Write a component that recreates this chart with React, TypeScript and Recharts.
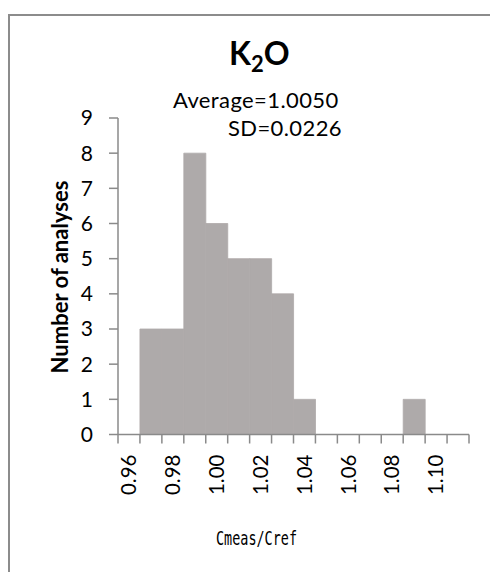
// App.tsx - K2O histogram (Cmeas/Cref)

import { Bar, BarChart, XAxis, YAxis } from "recharts";

const binLabels = [
  "0.96", "", "0.98", "", "1.00", "", "1.02", "", "1.04", "", "1.06", "", "1.08", "", "1.10", "",
];
const counts = [0, 3, 3, 8, 6, 5, 5, 4, 1, 0, 0, 0, 0, 1, 0, 0];
const yTicks = [0, 1, 2, 3, 4, 5, 6, 7, 8, 9];

const data = binLabels.map((label, i) => ({ bin: i, label, count: counts[i] }));

const FONT = "Lato, 'Open Sans', sans-serif";
const AXIS = "#8a8a8a";
const BAR = "#aeaaaa";

const BinTick = (props: any) => {
  const { x, y, payload, index } = props;
  const half = payload?.offset ?? 11;
  const label = binLabels[payload.value] ?? "";
  return (
    <g>
      <line x1={x - half} y1={y} x2={x - half} y2={y + 9} stroke={AXIS} strokeWidth={1.5} />
      {index === binLabels.length - 1 ? (
        <line x1={x + half} y1={y} x2={x + half} y2={y + 9} stroke={AXIS} strokeWidth={1.5} />
      ) : null}
      {label ? (
        <text
          transform={`translate(${x}, ${y + 20}) rotate(-90)`}
          textAnchor="end"
          dy="0.35em"
          fontSize={20.5}
          fontFamily={FONT}
          fill="#000"
        >
          {label}
        </text>
      ) : null}
    </g>
  );
};

export default function App() {
  return (
    <div
      style={{
        position: "absolute",
        left: 0,
        top: 0,
        width: 490,
        height: 572,
        overflow: "hidden",
        background: "#fff",
      }}
    >
      {/* frame */}
      <div
        style={{
          position: "absolute",
          left: 8,
          top: 14,
          width: 600,
          height: 700,
          border: "2px solid #8c8c8c",
        }}
      />
      <BarChart
        width={490}
        height={572}
        data={data}
        barCategoryGap={0}
        margin={{ top: 118, right: 21, bottom: 37.5, left: 58 }}
        style={{ position: "absolute", left: 0, top: 0 }}
      >
        <XAxis
          dataKey="bin"
          type="category"
          height={100}
          interval={0}
          tickSize={0}
          tickMargin={0}
          tickLine={false}
          axisLine={{ stroke: AXIS, strokeWidth: 1.5 }}
          tick={<BinTick />}
        />
        <YAxis
          width={60}
          domain={[0, 9]}
          ticks={yTicks}
          interval={0}
          tickSize={9}
          tickMargin={16}
          axisLine={{ stroke: AXIS, strokeWidth: 1.5 }}
          tickLine={{ stroke: AXIS, strokeWidth: 1.5 }}
          tick={{ fontSize: 21, fontFamily: FONT, fill: "#000" }}
        />
        <Bar dataKey="count" fill={BAR} stroke={BAR} strokeWidth={0.8} isAnimationActive={false} />
      </BarChart>
      {/* texts */}
      <svg
        width={490}
        height={572}
        style={{ position: "absolute", left: 0, top: 0, pointerEvents: "none" }}
      >
        <text x={229} y={65} fontSize={32} fontWeight={700} fontFamily={FONT} fill="#000">
          K
          <tspan fontSize={22} dy={7}>2</tspan>
          <tspan dy={-7}>O</tspan>
        </text>
        <text x={173} y={108} fontSize={22} letterSpacing={0.4} fontFamily={FONT} fill="#000">
          Average=1.0050
        </text>
        <text x={342} y={136} textAnchor="end" fontSize={22} letterSpacing={0.4} fontFamily={FONT} fill="#000">
          SD=0.0226
        </text>
        <text
          transform="translate(60, 277) rotate(-90)"
          textAnchor="middle"
          dy="0.35em"
          fontSize={22}
          fontWeight={700}
          fontFamily={FONT}
          fill="#000"
        >
          Number of analyses
        </text>
        <text
          x={216}
          y={545}
          fontSize={20}
          fontFamily="'DejaVu Sans Mono', monospace"
          textLength={81}
          lengthAdjust="spacingAndGlyphs"
          fill="#000"
        >
          Cmeas/Cref
        </text>
      </svg>
    </div>
  );
}
